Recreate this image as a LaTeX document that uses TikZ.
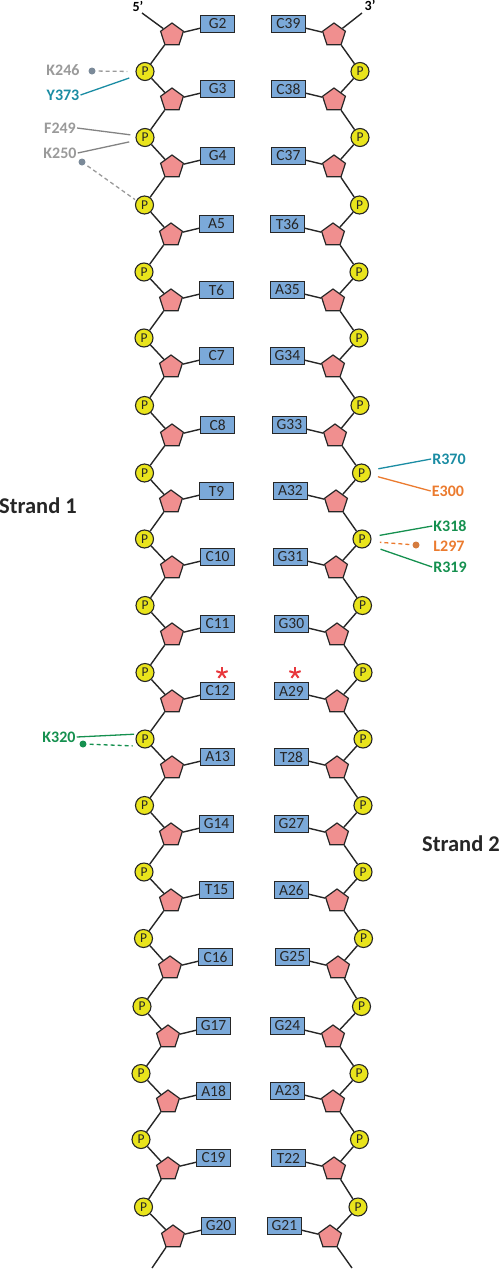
\documentclass[tikz,border=0pt]{standalone}
\usepackage{fontspec}
\setmainfont{Carlito}
\usetikzlibrary{shapes.geometric,calc}

\definecolor{boxblue}{HTML}{7BA9D9}
\definecolor{sugarpink}{HTML}{F08F8F}
\definecolor{pyellow}{HTML}{E9E41C}
\definecolor{linedark}{HTML}{262626}
\definecolor{resgray}{HTML}{9A9A9A}
\definecolor{dotgray}{HTML}{7B8A99}
\definecolor{resteal}{HTML}{1A8CA3}
\definecolor{resorange}{HTML}{EB7B2F}
\definecolor{resgreen}{HTML}{15904F}
\definecolor{starred}{HTML}{E8383D}

\tikzset{
  base/.style={rectangle, draw=linedark, fill=boxblue, line width=1.2pt,
    minimum width=34pt, minimum height=17pt, inner sep=0pt,
    text=linedark, font=\fontsize{15.5}{16}\selectfont},
  sugar/.style={regular polygon, regular polygon sides=5, draw=linedark,
    fill=sugarpink, line width=1.2pt, minimum size=24pt, inner sep=0pt},
  phos/.style={circle, draw=linedark, fill=pyellow, line width=1.1pt,
    minimum size=18pt, inner sep=0pt, text=linedark,
    font=\fontsize{13.5}{14}\selectfont},
  backbone/.style={draw=linedark, line width=1.4pt},
  res/.style={inner sep=1pt, font=\bfseries\fontsize{16}{17}\selectfont},
  resdot/.style={circle, inner sep=0pt, minimum size=7pt},
  link/.style={line width=1.3pt},
  dashlink/.style={line width=1.3pt, dash pattern=on 4pt off 3pt},
  endlabel/.style={inner sep=0pt, font=\bfseries\fontsize{14}{15}\selectfont},
  strandlabel/.style={inner sep=0pt, text=linedark,
    font=\bfseries\fontsize{22.5}{24}\selectfont}
}

\begin{document}
\begin{tikzpicture}[x=1pt,y=-1pt]
\useasboundingbox (0,0) rectangle (500,1269);

% base pairs with their sugars
\foreach \lb/\yy/\xl/\rb/\xr [count=\i] in {G2/24/200/C39/306, G3/89/200/C38/306,
    G4/156/200/C37/306, A5/224/199/T36/305, T6/290/199/A35/305, C7/356/199/G34/305,
    C8/425/200/G33/307, T9/491/199/A32/308, C10/557/200/G31/308, C11/624/200/G30/309,
    C12/691/200/A29/309, A13/757/200/T28/309, G14/824/199/G27/309, T15/890/199/A26/309,
    C16/957/198/G25/310, G17/1026/196/G24/305, A18/1091/196/A23/305,
    C19/1158/196/T22/306, G20/1226/201/G21/302}{
  \node[base, anchor=west] (bl\i) at (\xl,\yy) {\lb};
  \node[base, anchor=east] (br\i) at (\xr,\yy) {\rb};
  \node[sugar] (sl\i) at (\xl-28,\yy+11) {};
  \node[sugar] (sr\i) at (\xr+28,\yy+11) {};
  \draw[backbone] (sl\i) -- (bl\i);
  \draw[backbone] (sr\i) -- (br\i);
}

% phosphates between the sugars
\foreach \i [evaluate=\i as \j using int(\i+1)] in {1,...,18}{
  \node[phos] (pl\i) at ($(sl\i)!0.5!(sl\j)+(-27,4)$) {P};
  \node[phos] (pr\i) at ($(sr\i)!0.5!(sr\j)+(26,4)$) {P};
  \draw[backbone] (sl\i) -- (pl\i) -- (sl\j);
  \draw[backbone] (sr\i) -- (pr\i) -- (sr\j);
}

% strand ends
\coordinate (end5) at (142,13);
\coordinate (end3) at (362,13);
\coordinate (endl) at (152,1268);
\coordinate (endr) at (352,1268);
\draw[backbone] (sl1) -- (end5);
\draw[backbone] (sr1) -- (end3);
\draw[backbone] (sl19) -- (endl);
\draw[backbone] (sr19) -- (endr);
\node[endlabel] (lab5) at (138,6) {5’};
\node[endlabel] (lab3) at (370,5) {3’};

\node[strandlabel] (strand1) at (38,506) {Strand 1};
\node[strandlabel] (strand2) at (461,844) {Strand 2};

% marked pair
\coordinate (ast1) at (222,673);
\coordinate (ast2) at (295,673);
\foreach \a in {90,162,234,306,18}{
  \draw[starred, line width=2pt] (ast1) -- ++(\a:6pt);
  \draw[starred, line width=2pt] (ast2) -- ++(\a:6pt);
}

% contacts, strand 1
\node[res, resgray] (k246) at (63,70) {K246};
\node[resdot, fill=dotgray] (d246) at (92,71) {};
\node[res, resteal] (y373) at (63,95) {Y373};
\node[res, resgray] (f249) at (60,128) {F249};
\node[res, resgray] (k250) at (60,153) {K250};
\node[resdot, fill=dotgray] (d250) at (82,162) {};
\node[res, resgreen] (k320) at (59,737) {K320};
\node[resdot, fill=resgreen] (d320) at (83,744) {};
\draw[dashlink, resgray, shorten <=3pt, shorten >=8pt] (d246) -- (pl1.west);
\draw[link, resteal, shorten >=7.5pt] (y373.east) -- (pl1.205);
\draw[link, resgray!85!black, shorten >=5.3pt] (f249.east) -- (pl2.168);
\draw[link, resgray!85!black, shorten >=6.8pt] (k250.east) -- (pl2.198);
\draw[dashlink, resgray, shorten <=3pt, shorten >=1.3pt] (d250) -- (pl3.151);
\draw[link, resgreen, shorten >=2.7pt] (k320.east) -- (pl11.149);
\draw[dashlink, resgreen, shorten <=3pt, shorten >=6pt] (d320) -- (pl11.228);

% contacts, strand 2
\node[res, resteal] (r370) at (449,459) {R370};
\node[res, resorange] (e300) at (448,491) {E300};
\node[res, resgreen] (k318) at (450,526) {K318};
\node[res, resorange] (l297) at (449,546) {L297};
\node[resdot, fill=resorange!80!gray] (d297) at (416,545) {};
\node[res, resgreen] (r319) at (450,567) {R319};
\draw[link, resteal, shorten >=7.8pt] (r370.west) -- (pr7.17);
\draw[link, resorange, shorten >=7.3pt] (e300.west) -- (pr7.-11);
\draw[link, resgreen, shorten >=8.5pt] (k318.west) -- (pr8.13);
\draw[dashlink, resorange, shorten <=3pt, shorten >=8.7pt] (d297) -- (pr8.-16);
\draw[link, resgreen, shorten >=12pt] (r319.west) -- (pr8.-41);
\end{tikzpicture}
\end{document}
